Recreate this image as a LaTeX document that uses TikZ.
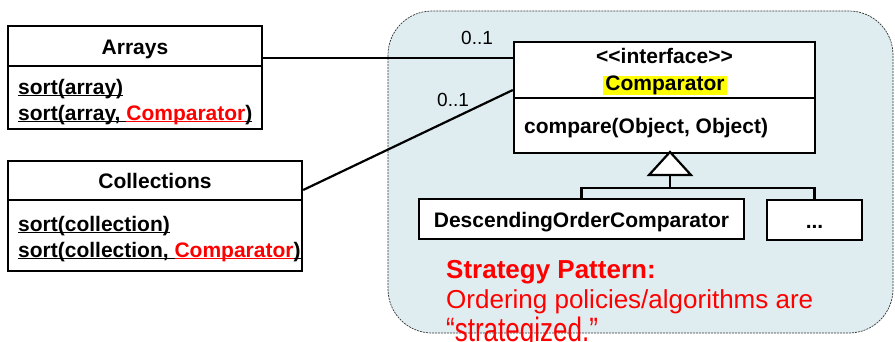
\documentclass[tikz,border=0pt]{standalone}
\usepackage{fontspec}
\setmainfont{Liberation Sans}
\definecolor{bgblue}{HTML}{DFEDF1}
\definecolor{hlyellow}{HTML}{FFFF00}
\definecolor{myred}{HTML}{FF0000}
\newcommand\ulx[1]{\setbox0\hbox{#1}\rlap{\rule[-2.4pt]{\wd0}{1.2pt}}\box0}
\tikzset{
  boxpart/.style={draw, line width=2.3pt, fill=white, inner sep=0pt},
  btxt/.style={inner sep=0pt, font=\fontsize{21}{24}\selectfont\bfseries},
  mult/.style={inner sep=0pt, anchor=base west, font=\fontsize{19}{22}\selectfont},
  link/.style={line width=2.2pt},
  redtxt/.style={inner sep=0pt, anchor=base west, text=myred, font=\fontsize{26}{30}\selectfont}
}
\begin{document}
\begin{tikzpicture}[x=1pt,y=-1pt]
\useasboundingbox (0,0) rectangle (895,341);
\clip (0,0) rectangle (895,341);
% background region
\draw[fill=bgblue, draw=black!80, line width=0.7pt, dash pattern=on 2pt off 1pt, rounded corners=44pt] (388,11) rectangle (893,333);

% Arrays class
\node[boxpart, minimum width=254pt, minimum height=40pt] (arrh) at (135,46) {};
\node[boxpart, minimum width=254pt, minimum height=63pt] (arrb) at (135,97.5) {};
\node[btxt, anchor=base] (arrt) at (135,54.3) {Arrays};
\node[btxt, anchor=base west] (arr1) at (18,94) {\ulx{sort(array)}};
\node[btxt, anchor=base west] (arr2) at (18,120) {\ulx{sort(array, }\textcolor{myred}{\ulx{Comparator}}\ulx{)}};

% Collections class
\node[boxpart, minimum width=294pt, minimum height=39pt] (colh) at (155,180.5) {};
\node[boxpart, minimum width=294pt, minimum height=71pt] (colb) at (155,235.5) {};
\node[btxt, anchor=base] (colt) at (155,188) {Collections};
\node[btxt, anchor=base west] (col1) at (18,231) {\ulx{sort(collection)}};
\node[btxt, anchor=base west] (col2) at (18,257) {\ulx{sort(collection, }\textcolor{myred}{\ulx{Comparator}}\ulx{)}};

% Comparator interface
\node[boxpart, minimum width=301pt, minimum height=56pt] (cmph) at (664.5,70) {};
\node[boxpart, minimum width=301pt, minimum height=55pt] (cmpb) at (664.5,125.5) {};
\node[btxt, anchor=base] (cmps) at (664.5,63.3) {\mbox{<}\kern0pt\mbox{<}interface\mbox{>}\kern0pt\mbox{>}};
\node[btxt, anchor=base, fill=hlyellow, inner xsep=2pt] (cmpt) at (665,90.7) {Comparator};
\node[btxt, anchor=base west] (cmpm) at (524,133.3) {compare(Object, Object)};

% Implementations
\node[boxpart, minimum width=325pt, minimum height=40pt] (desc) at (581.5,219) {};
\node[btxt, anchor=base] (desct) at (581.5,227.3) {DescendingOrderComparator};
\node[boxpart, minimum width=95pt, minimum height=40pt] (dots) at (814.5,220) {};
\node[btxt, anchor=base] (dotst) at (814.5,228) {...};

% associations
\draw[link] (arrh.east |- 0,58) -- (cmph.west |- 0,58);
\draw[link] (colh.east |- 0,190) -- (cmph.west |- 0,90);
\node[mult] (m1) at (461,44.3) {0..1};
\node[mult] (m2) at (437,106.7) {0..1};

% generalization
\coordinate (apex) at (670,152);
\coordinate (tbase) at (670,175);
\coordinate (jn) at (670,188);
\draw[link] (jn) -| (desc.north);
\draw[link] (jn) -| (dots.north);
\draw[link] (tbase) -- (jn);
\draw[link, fill=white, line join=miter] (apex) -- (649,175) -- (691,175) -- cycle;

% note
\node[redtxt, font=\fontsize{26}{30}\selectfont\bfseries] (n1) at (446,278.3) {Strategy Pattern:};
\node[redtxt] (n2) at (446,308.3) {Ordering policies/algorithms are};
\node[redtxt] (n3) at (446,341.5) {\scalebox{1}[1.3]{“strategized.”}};
\end{tikzpicture}
\end{document}
